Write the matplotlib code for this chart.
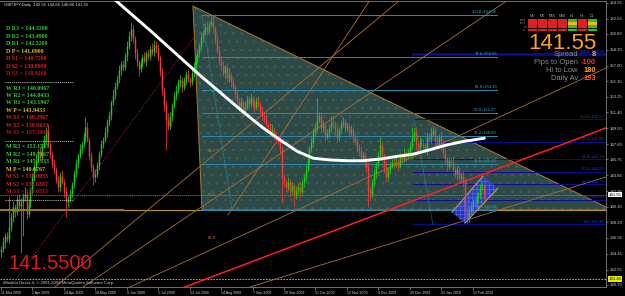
import matplotlib
matplotlib.use("Agg")
import matplotlib.pyplot as plt
import matplotlib.transforms as mtransforms
import numpy as np
import pandas as pd
from matplotlib.lines import Line2D
from matplotlib.patches import Polygon, Rectangle

# ---- data ----
title = "GBPJPY,Daily  142.55 142.66 140.86 141.55"
first_open = 134.6
closes = [
    135.0, 135.8, 136.6, 136.2, 137.6, 138.9, 140.1, 139.4, 141.0, 140.2,
    140.6, 141.3, 141.6, 139.2, 140.4, 142.1, 143.6, 145.0, 145.8, 146.6,
    146.1, 147.4, 148.2, 149.2, 147.6, 146.4, 145.2, 144.6, 143.3, 142.5,
    143.8, 143.1, 141.9, 140.6, 141.0, 141.6, 142.8, 144.1, 145.3, 146.2,
    147.0, 147.6, 148.4, 149.6, 148.1, 146.2, 144.8, 143.6, 144.0, 145.1,
    146.4, 147.6, 148.1, 149.0, 150.2, 151.1, 152.6, 153.5, 154.6, 155.4,
    156.5, 157.2, 156.8, 158.1, 159.4, 160.6, 161.4, 160.2, 158.5, 157.4,
    156.6, 157.3, 158.0, 157.6, 158.5, 158.2, 159.0, 158.6, 159.5, 159.1,
    158.0, 156.2, 154.1, 152.3, 150.6, 149.8, 151.0, 152.2, 153.4, 154.1,
    155.0, 155.3, 154.4, 155.2, 156.0, 155.4, 155.0, 156.1, 157.0, 157.6,
    158.5, 159.3, 160.4, 161.0, 161.6, 161.2, 162.0, 162.4, 161.5, 160.1,
    158.9, 157.6, 156.9, 156.1, 156.8, 155.5, 155.9, 155.0, 154.4, 153.6,
    152.8, 152.0, 152.6, 151.5, 152.1, 153.0, 152.4, 153.1, 152.5, 152.0,
    152.8, 152.4, 151.6, 151.0, 150.6, 150.0, 149.6, 149.0, 149.3, 148.5,
    148.3, 148.0, 147.0, 143.5, 143.0, 142.5, 143.0, 142.0, 142.6, 141.5,
    142.0, 142.5, 141.9, 143.0, 143.6, 144.5, 145.8, 147.0, 147.8, 149.0,
    149.6, 150.5, 151.0, 149.5, 149.9, 148.5, 148.9, 149.5, 150.3, 150.0,
    149.2, 148.5, 149.4, 150.0, 150.2, 149.5, 149.8, 149.0, 149.3, 148.5,
    148.0, 147.0, 146.8, 146.0, 146.3, 145.5, 144.8, 142.0, 141.6, 143.0,
    144.0, 145.0, 146.4, 147.5, 146.2, 145.0, 143.6, 144.5, 145.0, 145.5,
    145.2, 145.5, 145.0, 146.0, 145.8, 146.5, 146.2, 146.5, 147.4, 148.5,
    149.0, 147.5, 147.2, 148.0, 147.6, 147.5, 146.9, 148.5, 148.2, 149.0,
    149.3, 148.0, 147.6, 148.5, 147.8, 146.5, 145.8, 145.0, 145.6, 145.5,
    144.6, 144.0, 144.5, 143.5, 143.8, 143.0, 139.5, 138.8, 139.6, 140.0,
    140.6, 140.5, 141.2, 141.5, 142.5, 142.55, 141.55,
]
# wick lengths in tenths of a yen above / below the body
wick_hi = [
    4, 6, 3, 5, 36, 4, 7, 3, 5, 6, 5, 4, 8, 3, 6, 4, 5, 3, 7, 4,
    6, 3, 5, 4, 8, 3, 4, 6, 3, 5, 4, 7, 3, 5, 4, 6, 3, 4, 5, 3,
    6, 4, 5, 12, 7, 3, 5, 4, 6, 3, 4, 5, 3, 6, 4, 5, 3, 7, 4, 5,
    6, 3, 5, 4, 5, 6, 8, 5, 4, 6, 3, 5, 4, 6, 3, 5, 4, 7, 6, 4,
    5, 3, 6, 4, 5, 7, 4, 3, 5, 6, 4, 6, 3, 5, 4, 6, 3, 5, 4, 7,
    5, 4, 6, 3, 5, 7, 4, 6, 5, 3, 6, 4, 5, 7, 3, 5, 8, 4, 6, 3,
    5, 4, 6, 3, 7, 5, 4, 6, 3, 5, 4, 6, 3, 5, 4, 6, 3, 5, 7, 4,
    5, 3, 6, 4, 5, 3, 6, 4, 5, 3, 6, 4, 5, 3, 4, 6, 5, 4, 6, 5,
    7, 26, 5, 4, 6, 3, 5, 4, 7, 5, 4, 6, 3, 5, 7, 4, 5, 3, 6, 4,
    5, 3, 6, 4, 5, 3, 4, 6, 5, 4, 6, 5, 4, 10, 5, 3, 6, 4, 5, 3,
    4, 6, 3, 5, 4, 6, 3, 5, 4, 11, 5, 6, 4, 5, 3, 6, 4, 5, 4, 6,
    5, 4, 6, 3, 5, 4, 6, 3, 5, 4, 6, 4, 5, 3, 4, 6, 5, 4, 6, 5,
    4, 6, 5, 4, 3, 5, 1,
]
wick_lo = [
    5, 4, 7, 3, 5, 4, 6, 5, 3, 6, 57, 40, 5, 6, 4, 3, 5, 4, 6, 3,
    5, 4, 3, 6, 4, 5, 3, 6, 4, 7, 5, 3, 6, 18, 5, 4, 3, 5, 4, 6,
    3, 5, 4, 6, 3, 5, 4, 9, 5, 3, 6, 4, 5, 3, 5, 4, 6, 3, 5, 4,
    5, 6, 4, 3, 5, 4, 6, 5, 7, 4, 8, 4, 5, 3, 6, 4, 5, 3, 4, 6,
    5, 4, 6, 7, 37, 5, 4, 6, 3, 5, 4, 5, 6, 3, 5, 4, 6, 3, 5, 4,
    3, 5, 4, 6, 3, 5, 4, 3, 6, 5, 4, 6, 5, 3, 6, 4, 5, 6, 4, 5,
    6, 4, 5, 7, 4, 3, 6, 4, 5, 6, 3, 5, 4, 6, 5, 3, 6, 4, 5, 4,
    6, 4, 5, 30, 6, 5, 4, 7, 5, 13, 5, 4, 6, 3, 5, 4, 3, 6, 4, 5,
    4, 5, 3, 6, 4, 5, 3, 6, 4, 5, 6, 4, 5, 3, 4, 6, 3, 5, 4, 6,
    5, 4, 6, 5, 3, 6, 5, 20, 8, 5, 4, 5, 3, 6, 5, 8, 6, 4, 5, 3,
    5, 4, 6, 3, 5, 4, 6, 3, 5, 4, 6, 5, 4, 6, 3, 5, 4, 6, 3, 5,
    4, 6, 5, 3, 6, 4, 5, 6, 4, 5, 3, 5, 6, 4, 5, 6, 8, 7, 5, 4,
    6, 5, 4, 6, 5, 4, 7,
]

# long moving average (white), read at a few bars
ma_bar = [56, 76, 101, 122, 133, 142, 151, 159, 167, 176, 184, 193, 201, 210, 218, 227, 235, 246]
ma_val = [165.3, 161.2, 155.9, 151.7, 149.6, 148.1, 146.7, 145.9, 145.7, 145.6,
          145.6, 145.8, 146.1, 146.4, 146.9, 147.5, 147.9, 148.3]

# fibonacci from the August high
fib1_pct = [100.0, 78.6, 61.8, 50.0, 38.2, 23.6, 0.0]
fib1_lvl = [163.06, 158.06, 154.13, 151.37, 148.60, 145.19, 139.68]
fib1_bars = [102.3, 252.4]
# fibonacci from the January high
fib2_pct = [161.8, 100.0, 78.6, 61.8, 50.0, 38.2, 23.6, 0.0]
fib2_lvl = [158.35, 150.57, 147.88, 145.76, 144.28, 142.79, 140.95, 137.98]
fib2_start = 209.7

# triangle and channel objects (bar, price)
tri_bar = [97.7, 102.3, 311.0]
tri_price = [164.15, 139.69, 139.69]
chan_bar = [229.5, 245.3, 252.9, 236.1]
chan_price = [139.43, 143.75, 142.31, 138.11]

# trend / fan lines: start bar, start price, end bar, end price
fan_b0 = [27.5, 41.7, 65.6, 126.7, 115.5]
fan_p0 = [130.46, 130.46, 130.46, 130.46, 139.09]
fan_b1 = [203.1, 258.0, 307.9, 307.9, 187.8]
fan_p1 = [164.87, 164.87, 156.72, 143.66, 164.87]
red_line = [(93.6, 130.46), (307.9, 149.53)]
purple_line = [(3.6, 130.1), (98.7, 160.55)]
cyan_lines = [[(102.3, 163.07), (117.6, 139.68)], [(210.2, 150.59), (219.8, 137.98)]]

bid = 141.55
yellow_level = 131.45
ytick_vals = [164.55, 162.65, 160.80, 158.90, 157.00, 155.15, 153.25, 151.40, 149.50,
              147.60, 145.75, 143.85, 141.95, 140.10, 138.20, 136.35, 134.45, 132.55, 130.70]

piv_names = ["R3", "R2", "R1", "P", "S1", "S2", "S3"]
piv_daily = [144.32, 143.49, 142.52, 141.69, 140.72, 139.89, 138.92]
piv_weekly = [146.0967, 144.8433, 143.1967, 141.9433, 140.2967, 139.0433, 137.3967]
piv_monthly = [153.1733, 148.7167, 145.1333, 140.6767, 137.0933, 132.6367, 129.0533]

tf_names = ["M1", "M5", "M15", "M30", "H1", "H4", "D1"]
tf_rows = ["rrrrgrg", "rrrroro", "rrrrgrg", "rrrrgrg"]
stat_names = ["Spread", "Pips to Open", "Hi to Low", "Daily Av"]
stat_vals = ["8", "-100", "180", "193"]
stat_cols = ["#ffa020", "#ff3030", "#ffa020", "#ff5a20"]

# ---- build OHLC ----
n = min(len(closes), len(wick_hi), len(wick_lo))
c = np.array(closes[:n])
o = np.concatenate([[first_open], c[:-1]])
hi = np.maximum(o, c) + np.array(wick_hi[:n]) / 10
lo = np.minimum(o, c) - np.array(wick_lo[:n]) / 10
x = np.arange(n)

dates = pd.bdate_range("2009-03-11", periods=280)
dates = dates[~dates.isin(pd.to_datetime(["2009-12-25", "2010-01-01"]))][:n]

W, H = 625, 296
SANS = "Liberation Sans"
fig = plt.figure(figsize=(W / 100, H / 100), dpi=100, facecolor="black")
ax = fig.add_axes([0, 9 / H, 606 / W, 286 / H], facecolor="black")
ax.set_xlim(-0.51, 307.9)
ax.set_ylim(130.46, 164.754)

plt.rcParams["hatch.linewidth"] = 0.5

# triangle
tri_xy = np.column_stack([tri_bar, tri_price])
ax.add_patch(Polygon(tri_xy, closed=True, facecolor="#2c4a48", edgecolor="none", zorder=1))
ax.add_patch(Polygon(tri_xy, closed=True, facecolor="none", edgecolor="#5c5a40",
                     hatch="..", lw=0, zorder=1.1))
ax.add_patch(Polygon(tri_xy, closed=True, facecolor="none", edgecolor="#b07a30", lw=0.7, zorder=1.2))

# horizontal lines
ax.axhline(fib1_lvl[-1], color="#c8a000", lw=0.7, zorder=1.5)
ax.plot([-0.5, 62], [fib1_lvl[-1]] * 2, color="#a07818", lw=1.4, zorder=1.5)
ax.axhline(bid, color="#8a8a8a", lw=0.5, ls=(0, (2, 1)), zorder=1.5)
ax.axhline(yellow_level, color="#d8d800", lw=0.6, ls=(0, (2, 1.5)), zorder=1.5)

# fib 1
for pct, lvl in zip(fib1_pct, fib1_lvl):
    ax.plot(fib1_bars, [lvl, lvl], color="#2a8cb4", lw=0.7, zorder=2)
    ax.text(fib1_bars[1], lvl + 0.08, f"{pct:.1f}={lvl:.2f}", color="#3aa6cc",
            fontsize=3.0, family=SANS, ha="right", va="bottom", zorder=6)
# fib 2
for pct, lvl in zip(fib2_pct, fib2_lvl):
    lw = 1.8 if pct > 100 else 0.7
    ax.plot([fib2_start, 307.9], [lvl, lvl], color="#0c0c96", lw=lw, zorder=2)
    ax.text(307.0, lvl + 0.08, f"{pct:.1f}={lvl:.2f}", color="#2a36c8",
            fontsize=3.0, family=SANS, ha="right", va="bottom", zorder=6)

# fan lines
for b0, p0, b1, p1 in zip(fan_b0, fan_p0, fan_b1, fan_p1):
    ax.plot([b0, b1], [p0, p1], color="#a8703a", lw=0.6, zorder=2)
ax.plot(*zip(*red_line), color="#ff2020", lw=1.1, zorder=2.5)
ax.plot(*zip(*purple_line), color="#a0206e", lw=0.7, ls=(0, (1, 1.5)), zorder=2)
for seg in cyan_lines:
    ax.plot(*zip(*seg), color="#30a6c8", lw=0.6, ls=(0, (1, 1.2)), zorder=2)

# channel
ch_xy = np.column_stack([chan_bar, chan_price])
ax.add_patch(Polygon(ch_xy, closed=True, facecolor="#2a3cc8", edgecolor="#5a70ff",
                     hatch="++++", lw=0, alpha=0.85, zorder=2.2))
ax.plot([chan_bar[0], chan_bar[1]], [chan_price[0], chan_price[1]], color="#d8a040", lw=0.7, zorder=2.3)
ax.plot([chan_bar[3], chan_bar[2]], [chan_price[3], chan_price[2]], color="#d8a040", lw=0.7, zorder=2.3)

# candles
up = c >= o
col = np.where(up, "#18d018", "#f23c3c")
ax.vlines(x, lo, hi, colors=col, lw=0.55, zorder=3)
body_lo = np.minimum(o, c)
body_hi = np.maximum(np.maximum(o, c), body_lo + 0.08)
ax.vlines(x, body_lo, body_hi, colors=col, lw=1.05, zorder=3.1)

# moving average
ax.plot(ma_bar, ma_val, color="white", lw=2.1, solid_capstyle="round", zorder=4)

# fib fan labels on triangle edge
for lab, p in zip(["38.2", "50.0", "61.8"], [146.76, 141.49, 136.33]):
    ax.text(107.4, p, lab, color="#c08a30", fontsize=2.8, family=SANS,
            ha="center", va="center", zorder=5)

# axes styling
ax.spines["left"].set_visible(False)
for s in ["top", "right", "bottom"]:
    ax.spines[s].set_color("#808080")
    ax.spines[s].set_linewidth(0.6)

ax.yaxis.tick_right()
ax.set_yticks(ytick_vals)
ax.set_yticklabels([f"{v:.2f}" for v in ytick_vals], family=SANS)
ax.tick_params(axis="y", length=1.5, width=0.5, color="#909090", labelcolor="#d0d0d0",
               labelsize=3.1, pad=1.0)

tick_pos = list(range(0, n, 16))
ax.set_xticks(tick_pos)
ax.set_xticklabels([f"{dates[i].day} {dates[i].strftime('%b %Y')}" for i in tick_pos], family=SANS)
ax.tick_params(axis="x", length=2, width=0.5, color="#909090", labelcolor="#d0d0d0",
               labelsize=2.6, pad=0.8)
for lbl in ax.get_xticklabels():
    lbl.set_ha("left")

trans = mtransforms.blended_transform_factory(ax.transAxes, ax.transData)
ax.text(1.004, bid, f"{bid:.2f}", transform=trans, fontsize=3.1, family=SANS, color="black",
        va="center", ha="left", bbox=dict(boxstyle="square,pad=0.2", fc="white", ec="none"),
        zorder=10, clip_on=False)
ax.text(1.004, yellow_level, f"{yellow_level:.2f}", transform=trans, fontsize=3.1, family=SANS,
        color="black", va="center", ha="left",
        bbox=dict(boxstyle="square,pad=0.2", fc="#e8e800", ec="none"), zorder=10, clip_on=False)


def fx(px):
    return px / W


def fy(py):
    return 1 - py / H


fig.text(fx(4), fy(5), title, color="#e0e0e0", fontsize=3.1, family=SANS, va="center", ha="left")
fig.text(fx(3), fy(283), "Windsor Direct 4, \u00a9 2001-2009 MetaQuotes Software Corp.",
         color="#d0d0d0", fontsize=3.1, family=SANS, va="center", ha="left")

# pivot blocks
piv_cols = ["#33cc33", "#33cc33", "#33cc33", "#e0c020", "#dd2222", "#dd2222", "#c01414"]
for prefix, vals, y0 in [("D", piv_daily, 29), ("W", piv_weekly, 88), ("M", piv_monthly, 147)]:
    for k, (nm, v) in enumerate(zip(piv_names, vals)):
        fig.text(fx(6), fy(y0 + 7.4 * k), f"{prefix} {nm} = {v:.4f}", color=piv_cols[k],
                 fontsize=4.2, family="Liberation Serif", fontweight="bold", va="center", ha="left")
for yy in [82, 141, 200]:
    fig.add_artist(Line2D([fx(5), fx(73)], [fy(yy), fy(yy)], color="#c8c8c8", lw=0.5,
                          ls=(0, (2, 1))))

# big price labels
fig.text(fx(8), fy(269), f"{bid:.4f}", color="#e01818", fontsize=14.5,
         family=SANS, va="baseline", ha="left")
fig.text(fx(597), fy(49), f"{bid:.2f}", color="#ffa020", fontsize=16,
         family=SANS, va="baseline", ha="right")

# timeframe signal table
cell_cols = {"r": "#dd2020", "g": "#22c822", "o": "#ffb020"}
for k, nm in enumerate(tf_names):
    fig.text(fx(532.5 + 10 * k), fy(16), nm, color="#b0b0b0", fontsize=2.6, family=SANS,
             ha="center", va="center")
for r, row in enumerate(tf_rows):
    top = 19 + 3.2 * r
    for k, ch in enumerate(row):
        fig.add_artist(Rectangle((fx(528 + 10 * k), fy(top + 2.5)), 9 / W, 2.5 / H,
                                 facecolor=cell_cols[ch], edgecolor="none"))
for r, nm in enumerate(["macd", "stoch", "rsi", "cci"]):
    fig.text(fx(526), fy(20.3 + 3.2 * r), nm, color="#909090", fontsize=1.8, family=SANS,
             ha="right", va="center")

# stats
for k, (nm, v, cc) in enumerate(zip(stat_names, stat_vals, stat_cols)):
    yy = 54 + 8 * k
    fig.text(fx(578), fy(yy), nm, color="#8c8c8c", fontsize=5.4, family=SANS,
             ha="right", va="center", zorder=8)
    fig.text(fx(596), fy(yy), v, color=cc, fontsize=5.4, family=SANS,
             fontweight="bold", ha="right", va="center", zorder=8)

fig.savefig("out.png", dpi=100, facecolor="black")
